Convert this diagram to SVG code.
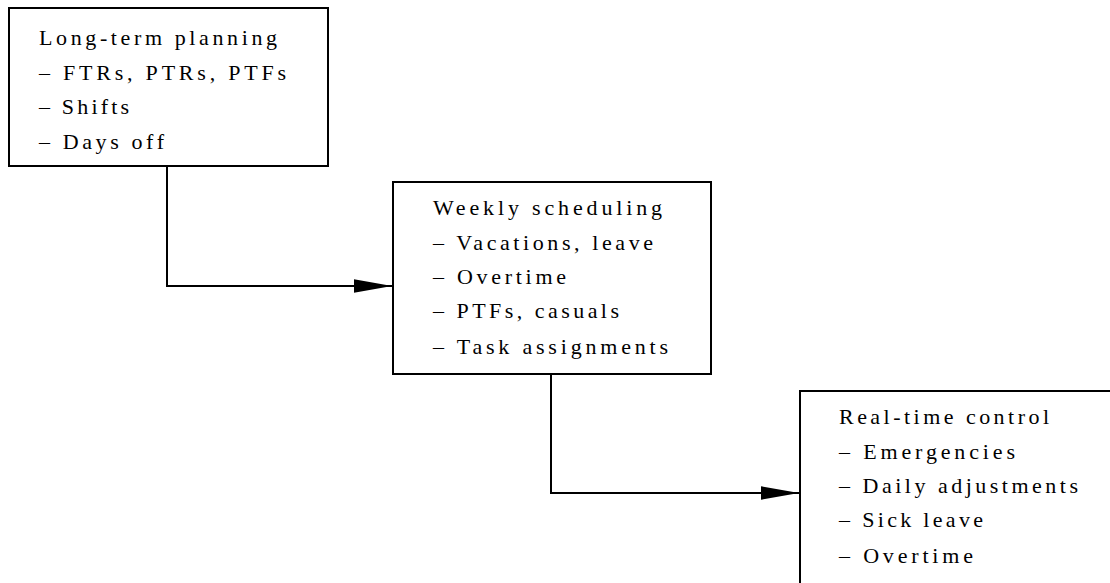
<svg xmlns="http://www.w3.org/2000/svg" width="1110" height="583" viewBox="0 0 1110 583">
  <style>
    .box { fill: #ffffff; stroke: #000000; stroke-width: 2; }
    .wire { fill: none; stroke: #000000; stroke-width: 2; }
    .label { font-family: "Liberation Serif", "Times New Roman", serif; font-size: 22px; fill: #000000; }
  </style>
  <defs>
    <marker id="arrowhead" markerUnits="userSpaceOnUse" markerWidth="38" markerHeight="14" refX="38" refY="7" orient="auto">
      <path d="M0,0.3 L38,7 L0,13.7 Z" fill="#000000"/>
    </marker>
  </defs>
  <rect width="1110" height="583" fill="#ffffff"/>

  <!-- connectors -->
  <g id="connectors">
    <path class="wire" d="M167,164 V286 H392" marker-end="url(#arrowhead)"/>
    <path class="wire" d="M551,372 V493 H799" marker-end="url(#arrowhead)"/>
  </g>

  <!-- planning horizon stages -->
  <g id="long-term-planning">
    <rect class="box" x="9" y="8" width="319" height="158"/>
    <text class="label" x="39" y="45" textLength="238" lengthAdjust="spacing">Long-term planning</text>
    <text class="label" x="39" y="80" textLength="247" lengthAdjust="spacing">– FTRs, PTRs, PTFs</text>
    <text class="label" x="39" y="114" textLength="90" lengthAdjust="spacing">– Shifts</text>
    <text class="label" x="39" y="149" textLength="125" lengthAdjust="spacing">– Days off</text>
  </g>

  <g id="weekly-scheduling">
    <rect class="box" x="393" y="182" width="318" height="192"/>
    <text class="label" x="433" y="215" textLength="229" lengthAdjust="spacing">Weekly scheduling</text>
    <text class="label" x="433" y="250" textLength="220" lengthAdjust="spacing">– Vacations, leave</text>
    <text class="label" x="433" y="284" textLength="133" lengthAdjust="spacing">– Overtime</text>
    <text class="label" x="433" y="318" textLength="186" lengthAdjust="spacing">– PTFs, casuals</text>
    <text class="label" x="433" y="354" textLength="235" lengthAdjust="spacing">– Task assignments</text>
  </g>

  <g id="real-time-control">
    <rect class="box" x="800" y="391" width="330" height="220"/>
    <text class="label" x="839" y="424" textLength="210" lengthAdjust="spacing">Real-time control</text>
    <text class="label" x="839" y="459" textLength="176" lengthAdjust="spacing">– Emergencies</text>
    <text class="label" x="839" y="493" textLength="239" lengthAdjust="spacing">– Daily adjustments</text>
    <text class="label" x="839" y="527" textLength="144" lengthAdjust="spacing">– Sick leave</text>
    <text class="label" x="839" y="563" textLength="134" lengthAdjust="spacing">– Overtime</text>
  </g>
</svg>
